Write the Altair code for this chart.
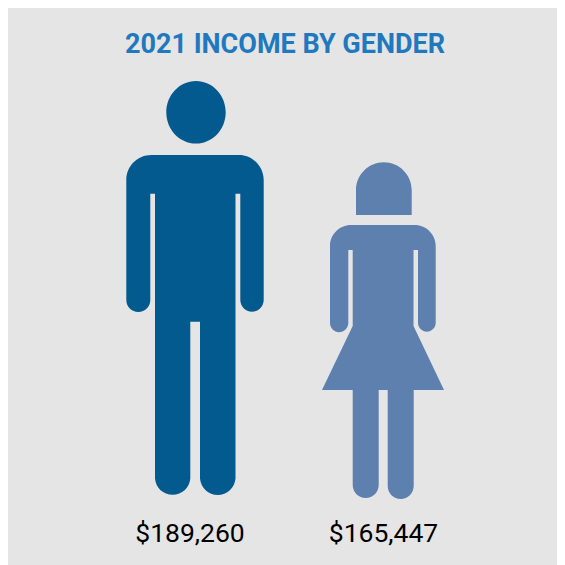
import altair as alt
import pandas as pd

genders = ["Men", "Women"]
incomes = [189260, 165447]
title_text = "2021 INCOME BY GENDER"

BG = "#e5e5e5"
COLORS = ["#025a8f", "#5d80af"]
CENTERS = [187, 375]          # plot-area x of each figure's origin
LABEL_X = [182, 375.5]        # plot-area x of each income label
ORIGIN_Y = 280                # plot-area y of the figures' origin
OFFSET = 8                    # page margin


def glyph(ox, oy, cmds):
    """Build an SVG path around (ox, oy) from page-pixel outline commands."""
    out = []
    for c in cmds:
        if c[0] == "Z":
            out.append("Z")
        elif c[0] == "A":
            _, rx, ry, large, x, y = c
            out.append(f"A{rx} {ry} 0 {large} 1 {x - ox:.1f} {y - oy:.1f}")
        else:
            out.append(f"{c[0]}{c[1] - ox:.1f} {c[2] - oy:.1f}")
    return " ".join(out)


man_cmds = [
    ("M", 166.3, 112.3), ("A", 29.7, 31.3, 1, 225.7, 112.3), ("A", 29.7, 31.3, 1, 166.3, 112.3), ("Z",),
    ("M", 151.3, 155), ("L", 238.7, 155), ("A", 25, 25, 0, 263.7, 180),
    ("L", 263.7, 300), ("A", 11.7, 11.7, 0, 240.3, 300), ("L", 240.3, 193.7),
    ("L", 235.5, 193.7), ("L", 235.5, 478.5), ("A", 17.8, 17.8, 0, 200, 478.5),
    ("L", 200, 321.7), ("L", 190.3, 321.7), ("L", 190.3, 478.5),
    ("A", 17.7, 17.7, 0, 155, 478.5), ("L", 155, 193.7), ("L", 150.3, 193.7),
    ("L", 150.3, 300), ("A", 12, 12, 0, 126.3, 300), ("L", 126.3, 180),
    ("A", 25, 25, 0, 151.3, 155), ("Z",),
]
woman_cmds = [
    ("M", 356, 215), ("L", 356, 190), ("A", 27.85, 27.85, 0, 411.7, 190), ("L", 411.7, 215), ("Z",),
    ("M", 351, 225), ("L", 414.7, 225), ("A", 21, 21, 0, 435.7, 246),
    ("L", 435.7, 322.8), ("A", 8.85, 8.85, 0, 418, 322.8), ("L", 418, 250),
    ("L", 413.5, 250), ("L", 413.5, 326), ("L", 444, 390), ("L", 413.7, 390),
    ("L", 413.7, 486), ("A", 13, 13, 0, 387.7, 486), ("L", 387.7, 390),
    ("L", 378.7, 390), ("L", 378.7, 485), ("A", 13, 13, 0, 352.7, 485),
    ("L", 352.7, 390), ("L", 322, 390), ("L", 352.7, 326), ("L", 352.7, 250),
    ("L", 348.3, 250), ("L", 348.3, 323), ("A", 9.15, 9.15, 0, 330, 323),
    ("L", 330, 246), ("A", 21, 21, 0, 351, 225), ("Z",),
]
SHAPES = [
    glyph(CENTERS[0] + OFFSET, ORIGIN_Y + OFFSET, man_cmds),
    glyph(CENTERS[1] + OFFSET, ORIGIN_Y + OFFSET, woman_cmds),
]

df = pd.DataFrame({"gender": genders, "income": incomes})
title_df = pd.DataFrame({"t": [title_text]})

figures = (
    alt.Chart(df)
    .mark_point(filled=True, opacity=1, size=4, strokeWidth=0)
    .encode(
        x=alt.X("gender:N", scale=alt.Scale(type="point", domain=genders, range=CENTERS, padding=0), axis=None),
        y=alt.value(ORIGIN_Y),
        shape=alt.Shape("gender:N", scale=alt.Scale(domain=genders, range=SHAPES), legend=None),
        color=alt.Color("gender:N", scale=alt.Scale(domain=genders, range=COLORS), legend=None),
    )
)

labels = (
    alt.Chart(df)
    .mark_text(font="Roboto", fontSize=26.5, color="#000000", baseline="alphabetic", align="center")
    .encode(
        x=alt.X("gender:N", scale=alt.Scale(type="point", domain=genders, range=LABEL_X, padding=0), axis=None),
        y=alt.value(534),
        text=alt.Text("income:Q", format="$,.0f"),
    )
)

title = (
    alt.Chart(title_df)
    .mark_text(font="Roboto", fontSize=27, fontWeight="bold", color="#2078bf", baseline="alphabetic", align="center")
    .encode(x=alt.value(277), y=alt.value(44.5), text="t:N")
)

chart = (
    alt.layer(figures, labels, title)
    .resolve_scale(x="independent")
    .properties(
        width=549,
        height=557,
        padding=0,
        background=BG,
        autosize=alt.AutoSizeParams(type="none"),
    )
    .configure_view(stroke=None)
)

chart.save("out.html", embed_options={"renderer": "svg", "actions": False})
